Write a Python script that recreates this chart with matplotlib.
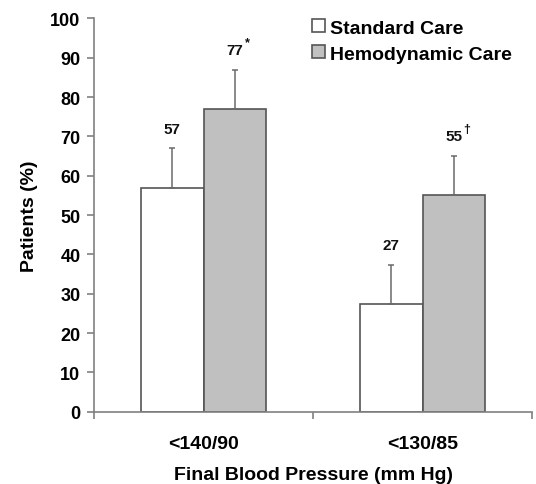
import numpy as np
import matplotlib
matplotlib.use('Agg')
import matplotlib.pyplot as plt

plt.rcParams['font.family'] = ['Liberation Sans', 'DejaVu Sans']
plt.rcParams['font.weight'] = 'bold'

categories = ['<140/90', '<130/85']
series_names = ['Standard Care', 'Hemodynamic Care']
standard = [57, 27.3]
hemodynamic = [77, 55]
standard_err = [10, 10]
hemodynamic_err = [10, 10]
standard_labels = ['57', '27']
hemodynamic_labels = ['77', '55']
hemodynamic_marks = ['*', '\u2020']

fig = plt.figure(figsize=(5.36, 4.85), dpi=100)
ax = fig.add_axes([0.176, 0.149, 0.9925 - 0.176, 0.960 - 0.149])

x = np.arange(len(categories))
w = 0.2865
edge = '#555555'
ekw = dict(ecolor='#6a6a6a', elinewidth=1.1, capsize=2.2, capthick=1.1)

ax.bar(x - w / 2, standard, w, color='white', edgecolor=edge, linewidth=1.2,
       yerr=[np.zeros(len(x)), standard_err], error_kw=ekw, label=series_names[0])
ax.bar(x + w / 2, hemodynamic, w, color='#c0c0c0', edgecolor=edge, linewidth=1.2,
       yerr=[np.zeros(len(x)), hemodynamic_err], error_kw=ekw, label=series_names[1])

# value labels above the error bars
for i in range(len(x)):
    ax.text(x[i] - w / 2, standard[i] + standard_err[i] + 5, standard_labels[i],
            ha='center', va='center', fontsize=11, color='#111111')
    ax.text(x[i] + w / 2, hemodynamic[i] + hemodynamic_err[i] + 5, hemodynamic_labels[i],
            ha='center', va='center', fontsize=11, color='#111111')
    ax.annotate(hemodynamic_marks[i], (x[i] + w / 2, hemodynamic[i] + hemodynamic_err[i] + 5),
                xytext=(6.8, 5.5), textcoords='offset points', ha='left', va='center',
                fontsize=9, color='#111111')

ax.set_xlim(-0.5, len(x) - 0.5)
ax.set_ylim(0, 100)
ax.set_yticks(np.arange(0, 101, 10))
ax.set_xticks(x)
ax.set_xticklabels(categories)
ax.set_xticks(np.arange(-0.5, len(x), 1), minor=True)
ax.tick_params(axis='x', which='major', length=0, pad=17, labelsize=14)
ax.tick_params(axis='x', which='minor', length=5, color='#808080', width=1.2)
ax.tick_params(axis='y', length=5, color='#808080', width=1.2, labelsize=13, pad=5)

for s in ['top', 'right']:
    ax.spines[s].set_visible(False)
for s in ['left', 'bottom']:
    ax.spines[s].set_color('#808080')
    ax.spines[s].set_linewidth(1.2)

ax.set_xlabel('Final Blood Pressure (mm Hg)', fontsize=14, fontweight='bold', labelpad=9.5)
ax.set_ylabel('Patients (%)', fontsize=14, fontweight='bold', labelpad=9)

ax.legend(loc='upper left', bbox_to_anchor=(0.582, 0.958), bbox_transform=fig.transFigure,
          frameon=False, fontsize=14, handlelength=0.65, handleheight=0.65,
          handletextpad=0.26, labelspacing=0.45, borderpad=0, borderaxespad=0)

fig.savefig('out.png', dpi=100)
